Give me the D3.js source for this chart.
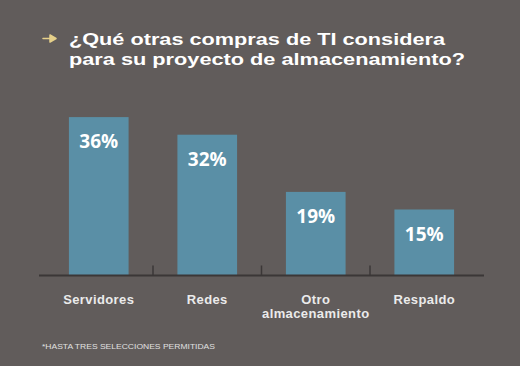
<!DOCTYPE html>
<html><head><meta charset="utf-8">
<script src="https://cdn.jsdelivr.net/npm/d3@7"></script>
<style>html,body{margin:0;padding:0;background:#615c5b;}svg{display:block;}</style>
</head><body>
<script>
const categories = ["Servidores", "Redes", "Otro almacenamiento", "Respaldo"];
const categoryLines = [["Servidores"], ["Redes"], ["Otro", "almacenamiento"], ["Respaldo"]];
const values = [36, 32, 19, 15];
const valueLabels = ["36%", "32%", "19%", "15%"];
const titleLines = ["¿Qué otras compras de TI considera", "para su proyecto de almacenamiento?"];
const footnote = "*HASTA TRES SELECCIONES PERMITIDAS";

const W = 520, H = 366;
const svg = d3.select("body").append("svg").attr("width", W).attr("height", H);
svg.append("rect").attr("width", W).attr("height", H).attr("fill", "#615c5b");

const x = d3.scaleBand().domain(categories).range([44.5, 478.5]).paddingInner(0.45).paddingOuter(0.225);
const y = d3.scaleLinear().domain([0, 40]).range([275.5, 99.5]);

// title
svg.append("path").attr("d", "M43,38.5 L50,38.5 L50,35 L56,38.5 L50,42 L50,38.5 Z")
  .attr("fill", "#e6d08a").attr("stroke", "#e6d08a").attr("stroke-width", 1.5).attr("stroke-linejoin", "round");
const titleWidths = [376, 396];
const title = svg.append("g")
  .attr("font-family", "Liberation Sans, Arial, sans-serif").attr("font-weight", "bold")
  .attr("font-size", 17).attr("fill", "#ffffff");
title.selectAll("text").data(titleLines).join("text")
  .attr("x", 69).attr("y", (d, i) => 45.3 + i * 19.3)
  .attr("textLength", (d, i) => titleWidths[i]).attr("lengthAdjust", "spacingAndGlyphs")
  .text(d => d);

// bars
svg.append("g").selectAll("rect").data(values).join("rect")
  .attr("x", (d, i) => x(categories[i])).attr("width", x.bandwidth())
  .attr("y", d => y(d)).attr("height", d => y(0) - y(d))
  .attr("fill", "#5a8fa6");

// value labels
svg.append("g").selectAll("text").data(values).join("text")
  .attr("x", (d, i) => x(categories[i]) + x.bandwidth() / 2)
  .attr("y", d => y(d) + 31)
  .attr("text-anchor", "middle")
  .attr("font-family", "Open Sans, sans-serif").attr("font-weight", "bold")
  .attr("font-size", 19).attr("fill", "#ffffff")
  .text((d, i) => valueLabels[i]);

// axis
const axis = d3.axisBottom(x).tickSize(0).tickFormat("");
const ax = svg.append("g").attr("transform", `translate(0,${y(0)})`).call(axis);
ax.select(".domain").remove();
svg.append("line").attr("x1", 39).attr("x2", 484).attr("y1", y(0)).attr("y2", y(0))
  .attr("stroke", "#3b3737").attr("stroke-width", 2);
// separators between bands
const step = x.step();
svg.append("g").selectAll("line").data(categories.slice(1)).join("line")
  .attr("x1", d => x(d) - (step * x.paddingInner()) / 2).attr("x2", d => x(d) - (step * x.paddingInner()) / 2)
  .attr("y1", y(0) - 10).attr("y2", y(0))
  .attr("stroke", "#3b3737").attr("stroke-width", 1.5);

// category labels
const cl = svg.append("g").selectAll("text").data(categories).join("text")
  .attr("text-anchor", "middle")
  .attr("font-family", "Liberation Sans, Arial, sans-serif").attr("font-weight", "bold")
  .attr("font-size", 13).attr("fill", "#ebebeb");
cl.each(function(d, i) {
  const t = d3.select(this);
  categoryLines[i].forEach((line, j) => {
    t.append("tspan").attr("x", x(d) + x.bandwidth() / 2).attr("y", 304 + j * 14.2)
      .attr("letter-spacing", 0.4).text(line);
  });
});

// footnote
svg.append("text").attr("x", 42).attr("y", 348.5)
  .attr("font-family", "Liberation Sans, Arial, sans-serif")
  .attr("font-size", 7.2).attr("fill", "#e0e0e0")
  .attr("textLength", 173).attr("lengthAdjust", "spacingAndGlyphs")
  .text(footnote);
</script>
</body></html>
